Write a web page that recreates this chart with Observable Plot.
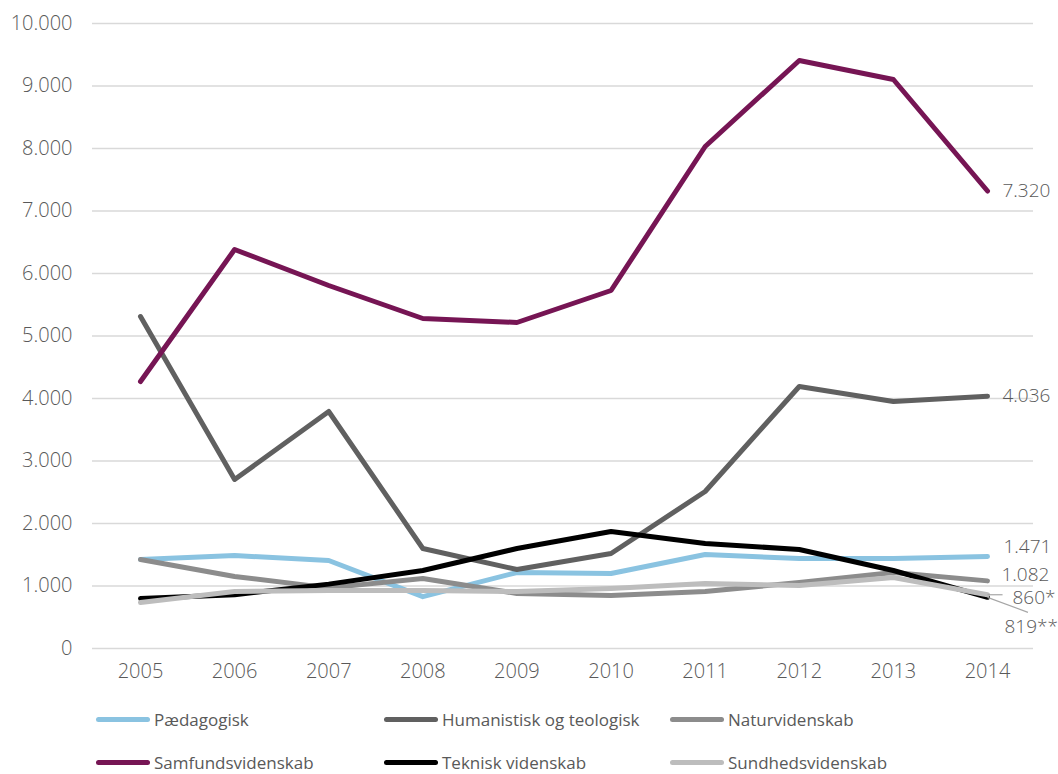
<!DOCTYPE html>
<html>
<head>
<meta charset="utf-8">
<script src="https://cdn.jsdelivr.net/npm/d3@7"></script>
<script src="https://cdn.jsdelivr.net/npm/@observablehq/plot@0.6"></script>
<style>
  html, body { margin: 0; padding: 0; background: #fff; }
  body { width: 1058px; height: 774px; position: relative; overflow: hidden; font-family: "Open Sans", "Noto Sans", sans-serif; }
  #chart { position: absolute; left: 0; top: 0; }
  .legend { position: absolute; left: 0; top: 700px; width: 1058px; height: 74px; font-size: 17px; color: #595959; font-weight: 400; }
  .item { position: absolute; display: flex; align-items: center; }
  .sw { width: 54px; height: 5px; border-radius: 3px; margin-right: 4px; }
</style>
</head>
<body>
<div id="chart"></div>
<div class="legend" id="legend"></div>
<script>
const years = [2005, 2006, 2007, 2008, 2009, 2010, 2011, 2012, 2013, 2014];
const seriesNames = ["Pædagogisk", "Humanistisk og teologisk", "Naturvidenskab", "Samfundsvidenskab", "Teknisk videnskab", "Sundhedsvidenskab"];
const colors = ["#8ac3e1", "#606060", "#8c8c8c", "#761554", "#000000", "#bdbdbd"];
const paedagogisk  = [1424, 1488, 1408, 830, 1216, 1200, 1504, 1440, 1440, 1471];
const humanistisk  = [5312, 2704, 3792, 1600, 1264, 1520, 2512, 4192, 3952, 4036];
const natur        = [1424, 1152, 970, 1120, 880, 848, 912, 1056, 1216, 1082];
const samfund      = [4272, 6384, 5808, 5280, 5216, 5728, 8032, 9408, 9104, 7320];
const teknisk      = [800, 860, 1030, 1248, 1600, 1872, 1680, 1584, 1248, 819];
const sundheds     = [736, 912, 928, 928, 912, 960, 1040, 1008, 1136, 860];
const yTicks = [0, 1000, 2000, 3000, 4000, 5000, 6000, 7000, 8000, 9000, 10000];
const endLabels = ["7.320", "4.036", "1.471", "1.082", "860*", "819**"];

const valueArrays = [paedagogisk, humanistisk, natur, samfund, teknisk, sundheds];
const rows = [];
seriesNames.forEach((s, i) => years.forEach((y, j) => rows.push({series: s, year: y, value: valueArrays[i][j]})));

const fmt = d => d3.format(",")(d).replace(/,/g, ".");
const textColor = "#595959";
const lastOf = arr => arr[arr.length - 1];
const last = lastOf(years);

const labelOpts = {x: "year", y: "value", text: "text", textAnchor: "start", fill: textColor, fontSize: 19};

const chart = Plot.plot({
  width: 1058,
  height: 700,
  marginLeft: 92,
  marginRight: 25,
  marginTop: 23,
  marginBottom: 52,
  style: {fontFamily: "'Open Sans', 'Noto Sans', sans-serif", fontSize: "20px", fontWeight: 300, color: textColor, background: "white", overflow: "visible"},
  x: {type: "linear", domain: [2005, 2014], range: [140, 987]},
  y: {domain: [0, 10000]},
  color: {domain: seriesNames, range: colors},
  marks: [
    Plot.ruleY(yTicks, {stroke: "#d9d9d9", strokeWidth: 1.5}),
    Plot.axisY({ticks: yTicks, tickSize: 0, tickPadding: 20, tickFormat: fmt, label: null, fill: textColor, fontSize: 20}),
    Plot.axisX({ticks: years, tickSize: 0, tickPadding: 15, tickFormat: d => String(d), label: null, fill: textColor, fontSize: 20}),
    Plot.line(rows, {x: "year", y: "value", z: "series", stroke: "series", strokeWidth: 5, strokeLinejoin: "round", strokeLinecap: "round"}),
    // leader lines for small end labels
    Plot.link([{x1: last, y1: lastOf(sundheds), x2: last + 0.16, y2: lastOf(sundheds)}], {x1: "x1", y1: "y1", x2: "x2", y2: "y2", stroke: "#a6a6a6", strokeWidth: 1.2}),
    Plot.link([{x1: last, y1: lastOf(teknisk), x2: last + 0.43, y2: lastOf(teknisk) - 240}], {x1: "x1", y1: "y1", x2: "x2", y2: "y2", stroke: "#a6a6a6", strokeWidth: 1.2}),
    Plot.text([{year: last, value: lastOf(samfund), text: endLabels[0]}, {year: last, value: lastOf(humanistisk), text: endLabels[1]}], {...labelOpts, dx: 15}),
    Plot.text([{year: last, value: lastOf(paedagogisk), text: endLabels[2]}], {...labelOpts, dx: 16, dy: -10}),
    Plot.text([{year: last, value: lastOf(natur), text: endLabels[3]}], {...labelOpts, dx: 14, dy: -6}),
    Plot.text([{year: last, value: lastOf(sundheds), text: endLabels[4]}], {...labelOpts, dx: 25, dy: 3}),
    Plot.text([{year: last, value: lastOf(teknisk), text: endLabels[5]}], {...labelOpts, dx: 17, dy: 30})
  ]
});
document.getElementById("chart").appendChild(chart);

const legendPos = [[96, 20], [384, 20], [670, 20], [96, 63], [384, 63], [670, 63]];
const legend = document.getElementById("legend");
seriesNames.forEach((s, i) => {
  const d = document.createElement("div");
  d.className = "item";
  d.style.left = legendPos[i][0] + "px";
  d.style.top = (legendPos[i][1] - 12) + "px";
  d.innerHTML = `<span class="sw" style="background:${colors[i]}"></span><span>${s}</span>`;
  legend.appendChild(d);
});
</script>
</body>
</html>
